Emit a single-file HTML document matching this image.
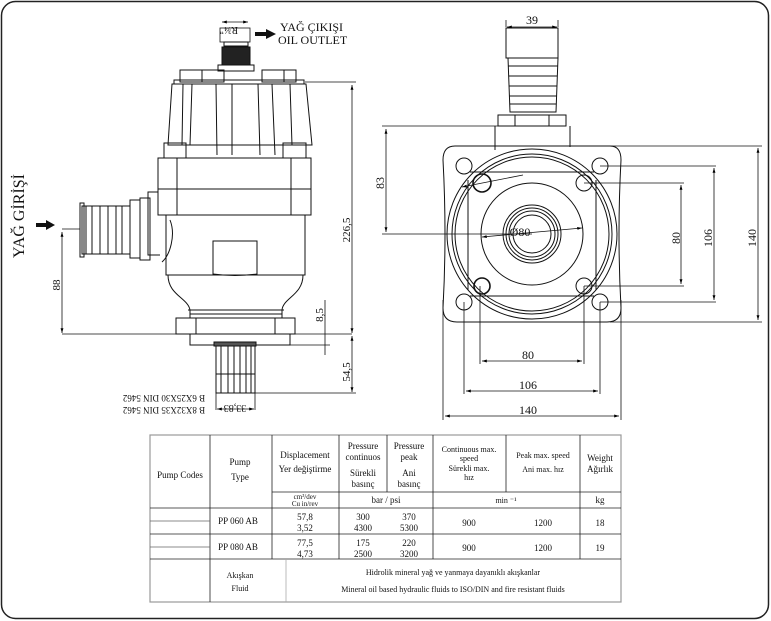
<!DOCTYPE html>
<html><head><meta charset="utf-8"><style>
html,body{margin:0;padding:0;background:#fff}
svg{display:block}
text{font-family:"Liberation Serif",serif;fill:#111}
</style></head><body>
<svg width="771" height="621" viewBox="0 0 771 621" xmlns="http://www.w3.org/2000/svg">
<defs>
<marker id="a" viewBox="0 0 10 10" refX="10" refY="5" markerWidth="6" markerHeight="6" orient="auto-start-reverse"><path d="M0,2 L10,5 L0,8z" fill="#000"/></marker>
</defs>
<rect x="1.5" y="1.5" width="767" height="617" rx="14" fill="none" stroke="#222" stroke-width="1.5"/>
<g fill="none" stroke="#111" stroke-width="1">
<rect x="220" y="28" width="30" height="14" stroke-width="0.8"/>
<rect x="224" y="42" width="24" height="4"/>
<rect x="222" y="47" width="28" height="18" fill="#222"/>
<rect x="218" y="65" width="36" height="6"/>
<rect x="180" y="70" width="22" height="12"/><rect x="202" y="70" width="22" height="12"/>
<rect x="262" y="70" width="22" height="12"/><rect x="284" y="70" width="12" height="12"/>
<rect x="174" y="80" width="130" height="4"/>
<path d="M172,84 L168,145 L312,145 L306,84 Z"/>
<path d="M183,84 L182,145 M192,84 L190,145 M216,84 L217,155 M232,84 L232,155 M258,84 L260,155 M272,84 L275,155 M290,84 L292,145"/>
<rect x="164" y="143" width="22" height="15"/><rect x="283" y="143" width="23" height="15"/>
<rect x="158" y="158" width="153" height="57"/>
<path d="M158,189 H311 M177,158 V215 M291,158 V215"/>
<path d="M158,192 H148 V255 H160"/>
<rect x="140" y="198" width="10" height="62"/>
<rect x="130" y="200" width="10" height="58"/>
<rect x="82" y="206" width="48" height="48"/>
<path d="M86,206 V254 M92,206 V254 M100,206 V254 M108,206 V254 M116,206 V254 M122,206 V254"/>
<rect x="80" y="203" width="4" height="54"/>
<path d="M166,215 V275 H305 V215"/>
<path d="M170,220 C176,235 170,255 162,262"/>
<rect x="213" y="241" width="44" height="34"/>
<path d="M213,274 Q235,277 257,274"/>
<path d="M168,275 C168,295 188,298 190,310 V318 M303,275 C303,295 283,298 282,310 V318"/>
<path d="M188,310 H284 M190,314 H282"/>
<rect x="176" y="318" width="119" height="16"/>
<path d="M196,318 V334 M275,318 V334"/>
<rect x="190" y="334" width="100" height="11"/>
<rect x="214" y="342" width="42" height="4" fill="#555"/>
<rect x="216" y="346" width="39" height="47"/>
<path d="M221,346 V393 M228,346 V393 M234,346 V393 M240,346 V393 M246,346 V393 M251,346 V393 M216,374 H255"/>
</g>
<g stroke="#111" stroke-width="0.8" fill="none">
<path d="M62,334 H352 M62,229 H80 M305,82 H356 M255,393 H356"/>
<line x1="62" y1="232" x2="62" y2="333" marker-start="url(#a)" marker-end="url(#a)"/>
<line x1="352" y1="85" x2="352" y2="333" marker-start="url(#a)" marker-end="url(#a)"/>
<line x1="352" y1="336" x2="352" y2="392" marker-start="url(#a)" marker-end="url(#a)"/>
<path d="M325,300 V355 M290,345 H330"/>
<path d="M216,393 V410 M255,393 V410"/>
<line x1="217" y1="409" x2="254" y2="409" marker-start="url(#a)" marker-end="url(#a)"/>
<line x1="222" y1="22" x2="248" y2="22" marker-start="url(#a)" marker-end="url(#a)"/>
</g>
<path d="M255,32 H266 V29 L276,34 L266,39 V36 H255Z" fill="#111"/>
<path d="M36,223 H46 V220 L55,225 L46,230 V227 H36Z" fill="#111"/>
<text x="280" y="31" font-size="12">YAĞ ÇIKIŞI</text>
<text x="278" y="44" font-size="12">OIL OUTLET</text>
<text x="238" y="35" font-size="10" transform="rotate(180 238 31)">R¾"</text>
<text x="24" y="258" font-size="16" transform="rotate(-90 24 258)">YAĞ GİRİŞİ</text>
<text x="60" y="285" font-size="11" transform="rotate(-90 60 285)" text-anchor="middle">88</text>
<text x="350" y="230" font-size="11" transform="rotate(-90 350 230)" text-anchor="middle">226,5</text>
<text x="323" y="315" font-size="11" transform="rotate(-90 323 315)" text-anchor="middle">8,5</text>
<text x="350" y="372" font-size="11" transform="rotate(-90 350 372)" text-anchor="middle">54,5</text>
<text x="164" y="401" font-size="9" text-anchor="middle" transform="rotate(180 164 398)">B 6X25X30 DIN 5462</text>
<text x="164" y="413" font-size="9" text-anchor="middle" transform="rotate(180 164 410)">B 8X32X35 DIN 5462</text>
<text x="235" y="413" font-size="10" transform="rotate(180 235 409)" text-anchor="middle">33,83</text>

<g fill="none" stroke="#111" stroke-width="1">
<rect x="506" y="28" width="52" height="30"/>
<path d="M508,58 L510,112 H556 L558,58"/>
<path d="M508,66 H558 M509,76 H557 M509,86 H557 M509,96 H557 M510,104 H556"/>
<rect x="498" y="115" width="68" height="11"/>
<path d="M515,115 V126 M549,115 V126"/>
<path d="M495,126 V150 M570,126 V147"/>
<path d="M455,146 H610 Q621,146 621,160 Q617,234 621,308 Q621,322 607,322 H457 Q443,322 443,308 Q447,234 443,160 Q443,146 455,146Z"/>
<circle cx="532" cy="234" r="85"/>
<circle cx="532" cy="234" r="80"/>
<circle cx="532" cy="234" r="77"/>
<path d="M468,180 V290 M596,180 V290 M470,172 H594 M470,296 H594"/>
<circle cx="532" cy="234" r="51"/>
<circle cx="532" cy="234" r="29"/>
<circle cx="532" cy="234" r="26"/>
<circle cx="532" cy="234" r="23"/>
<circle cx="532" cy="234" r="19"/>
<circle cx="464" cy="166" r="8"/><circle cx="600" cy="166" r="8"/>
<circle cx="464" cy="302" r="8"/><circle cx="600" cy="302" r="8"/>
<circle cx="482" cy="183" r="9" stroke-width="1.6"/><circle cx="584" cy="183" r="8"/>
<circle cx="482" cy="286" r="8" stroke-width="1.6"/><circle cx="584" cy="286" r="8"/>
</g>
<g stroke="#111" stroke-width="0.8" fill="none">
<path d="M506,27 V20 M558,27 V20"/>
<line x1="507" y1="27" x2="557" y2="27" marker-start="url(#a)" marker-end="url(#a)"/>
<path d="M382,126 H498 M382,234 H532"/>
<line x1="386" y1="129" x2="386" y2="232" marker-start="url(#a)" marker-end="url(#a)"/>
<path d="M584,183 H684 M584,286 H684 M600,166 H716 M600,302 H716 M610,146 H762 M610,322 H762"/>
<line x1="681" y1="185" x2="681" y2="284" marker-start="url(#a)" marker-end="url(#a)"/>
<line x1="714" y1="168" x2="714" y2="300" marker-start="url(#a)" marker-end="url(#a)"/>
<line x1="758" y1="148" x2="758" y2="320" marker-start="url(#a)" marker-end="url(#a)"/>
<path d="M480,286 V364 M584,286 V364 M464,302 V394 M600,302 V394 M443,300 V420 M621,300 V420"/>
<line x1="482" y1="361" x2="582" y2="361" marker-start="url(#a)" marker-end="url(#a)"/>
<line x1="466" y1="391" x2="598" y2="391" marker-start="url(#a)" marker-end="url(#a)"/>
<line x1="445" y1="416" x2="619" y2="416" marker-start="url(#a)" marker-end="url(#a)"/>
<line x1="482" y1="237" x2="582" y2="228" marker-start="url(#a)" marker-end="url(#a)"/>
<line x1="523" y1="175" x2="462" y2="187" marker-end="url(#a)"/>
</g>
<text x="532" y="24" font-size="12" text-anchor="middle">39</text>
<text x="384" y="183" font-size="12" transform="rotate(-90 384 183)" text-anchor="middle">83</text>
<text x="680" y="238" font-size="12" transform="rotate(-90 680 238)" text-anchor="middle">80</text>
<text x="712" y="238" font-size="12" transform="rotate(-90 712 238)" text-anchor="middle">106</text>
<text x="756" y="238" font-size="12" transform="rotate(-90 756 238)" text-anchor="middle">140</text>
<text x="528" y="359" font-size="12" text-anchor="middle">80</text>
<text x="528" y="389" font-size="12" text-anchor="middle">106</text>
<text x="528" y="414" font-size="12" text-anchor="middle">140</text>
<text x="520" y="236" font-size="12" text-anchor="middle">Ø80</text>

<g stroke="#222" stroke-width="0.8" fill="none">
<rect x="150" y="435" width="471" height="167" stroke="#999" stroke-width="1.2"/>
<path d="M150,508 H621 M150,534 H621 M150,559 H621 M272,492 H621"/>
<path d="M210,435 V602 M272,435 V559 M339,435 V559 M387,435 V492 M433,435 V559 M506,435 V492 M580,435 V559"/>
<path d="M286,559 V602" stroke="#aaa"/>
<path d="M150,521 H210 M150,547 H210" stroke="#666"/>
</g>
<g font-size="9" text-anchor="middle">
<text x="180" y="478">Pump Codes</text>
<text x="240" y="465">Pump</text><text x="240" y="480">Type</text>
<text x="305" y="458">Displacement</text><text x="305" y="472">Yer değiştirme</text>
<text x="363" y="449">Pressure</text><text x="363" y="460">continuos</text><text x="363" y="476">Sürekli</text><text x="363" y="487">basınç</text>
<text x="409" y="449">Pressure</text><text x="409" y="460">peak</text><text x="409" y="476">Ani</text><text x="409" y="487">basınç</text>
<text x="469" y="452" font-size="8">Continuous max.</text><text x="469" y="461" font-size="8">speed</text><text x="469" y="471" font-size="8">Sürekli max.</text><text x="469" y="480" font-size="8">hız</text>
<text x="543" y="458" font-size="8">Peak max. speed</text><text x="543" y="472" font-size="8">Ani max. hız</text>
<text x="600" y="461">Weight</text><text x="600" y="472">Ağırlık</text>
<text x="305" y="499" font-size="7">cm³/dev</text><text x="305" y="506" font-size="7">Cu in/rev</text>
<text x="386" y="503">bar / psi</text>
<text x="506" y="503" font-size="8">min ⁻¹</text>
<text x="600" y="503">kg</text>
<text x="238" y="524">PP 060 AB</text>
<text x="305" y="520">57,8</text><text x="305" y="531">3,52</text>
<text x="363" y="520">300</text><text x="363" y="531">4300</text>
<text x="409" y="520">370</text><text x="409" y="531">5300</text>
<text x="469" y="526">900</text><text x="543" y="526">1200</text><text x="600" y="526">18</text>
<text x="238" y="550">PP 080 AB</text>
<text x="305" y="546">77,5</text><text x="305" y="557">4,73</text>
<text x="363" y="546">175</text><text x="363" y="557">2500</text>
<text x="409" y="546">220</text><text x="409" y="557">3200</text>
<text x="469" y="551">900</text><text x="543" y="551">1200</text><text x="600" y="551">19</text>
<text x="240" y="578" font-size="8">Akışkan</text><text x="240" y="591" font-size="8">Fluid</text>
<text x="453" y="575" font-size="8">Hidrolik mineral yağ ve yanmaya dayanıklı akışkanlar</text>
<text x="453" y="592" font-size="8">Mineral oil based hydraulic fluids to ISO/DIN and fire resistant fluids</text>
</g>
</svg>
</body></html>
